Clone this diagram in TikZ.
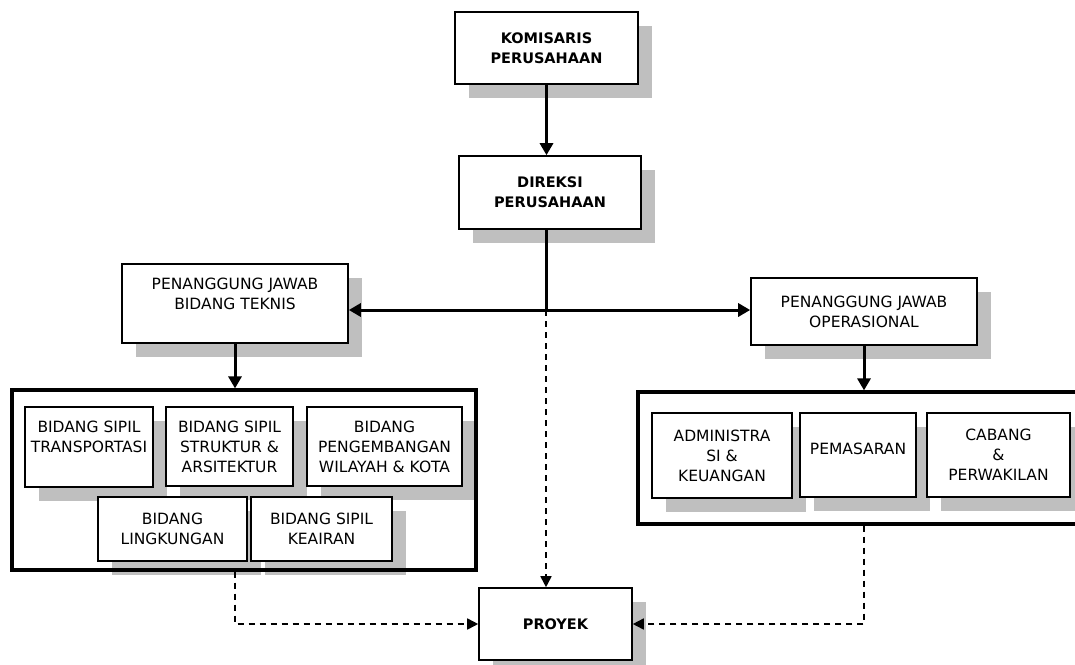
\documentclass[tikz,border=0pt]{standalone}
\usepackage{fontspec}
\setmainfont{DejaVu Sans}
\usepackage{tikz}
\usetikzlibrary{arrows.meta, shadows}
\definecolor{ShadowGray}{RGB}{191,191,191}

\begin{document}
\begin{tikzpicture}[x=1pt, y=-1pt, every node/.style={font=\fontsize{15.5}{20}\selectfont},
  box/.style={draw, line width=1.6pt, fill=white, align=center, inner sep=1pt,
    drop shadow={shadow xshift=14pt, shadow yshift=-14pt, fill=ShadowGray, opacity=1}},
  headbox/.style={box, font=\fontsize{14.5}{20}\selectfont\bfseries},
  frame/.style={draw, line width=3.2pt, inner sep=0pt},
  line/.style={-{Triangle[length=12pt, width=13pt]}, line width=3pt},
  dline/.style={-{Triangle[length=11pt, width=11pt]}, line width=1.7pt, dash pattern=on 6pt off 5pt}]

\useasboundingbox (0,0) rectangle (1075,664);

% top of the organisation
\node[headbox, minimum width=183pt, minimum height=72pt] (kom) at (546.5,48) {KOMISARIS\\PERUSAHAAN};
\node[headbox, minimum width=182pt, minimum height=73pt] (dir) at (550,192.5) {DIREKSI\\PERUSAHAAN};

% the two people in charge
\node[box, minimum width=226pt, minimum height=79pt] (tek) at (235,303.5) {PENANGGUNG JAWAB\\BIDANG TEKNIS\\[-1pt]};
\node[box, minimum width=226pt, minimum height=67pt] (ops) at (864,311.5) {PENANGGUNG JAWAB\\OPERASIONAL};

% technical fields
\node[box, minimum width=128pt, minimum height=80pt] (trans) at (89,447) {BIDANG SIPIL\\TRANSPORTASI\\[0pt]};
\node[box, minimum width=127pt, minimum height=79pt] (struk) at (229.5,446.5) {BIDANG SIPIL\\STRUKTUR \&\\ARSITEKTUR};
\node[box, minimum width=155pt, minimum height=79pt] (kota) at (384.5,446.5) {BIDANG\\PENGEMBANGAN\\WILAYAH \& KOTA};
\node[box, minimum width=149pt, minimum height=64pt] (ling) at (172.5,529) {BIDANG\\LINGKUNGAN};
\node[box, minimum width=141pt, minimum height=64pt] (air) at (321.5,529) {BIDANG SIPIL\\KEAIRAN};
\node[frame, minimum width=464pt, minimum height=180pt] (grpL) at (244,480) {};

% operational fields
\node[box, minimum width=140pt, minimum height=85pt] (adm) at (722,455.5) {ADMINISTRA\\SI \&\\KEUANGAN};
\node[box, minimum width=116pt, minimum height=84pt] (pem) at (858,455) {PEMASARAN\\[-8pt]};
\node[box, minimum width=143pt, minimum height=84pt] (cab) at (998.5,455) {CABANG\\\&\\PERWAKILAN};
\node[frame, minimum width=440pt, minimum height=132pt] (grpR) at (858,458) {};

% project
\node[headbox, minimum width=153pt, minimum height=72pt] (pro) at (555.5,624) {PROYEK};

\coordinate (j) at (546,310);

% solid lines
\draw[line] (kom.south) -- (kom.south |- dir.north);
\draw[line width=3pt] (j |- dir.south) -- (j);
\draw[line] (j) -- (j -| tek.east);
\draw[line] (j) -- (j -| ops.west);
\draw[line] (tek.south) -- (tek.south |- grpL.north);
\draw[line] (ops.south) -- (ops.south |- grpR.north);

% dashed lines to the project
\draw[dline] (j) -- (j |- pro.north);
\draw[dline] (tek.south |- grpL.south) |- (pro.west);
\draw[dline] (ops.south |- grpR.south) |- (pro.east);
\end{tikzpicture}
\end{document}
